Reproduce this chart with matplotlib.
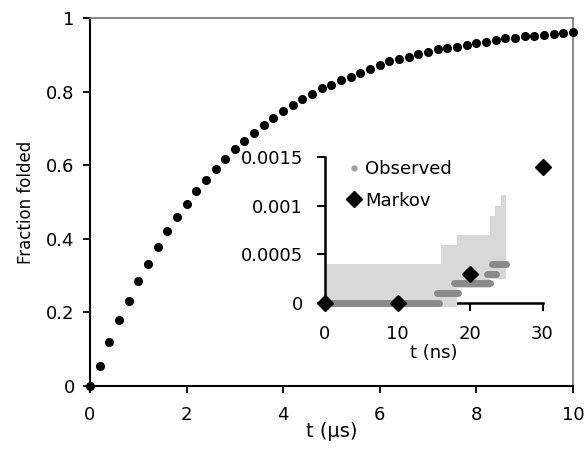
import numpy as np
import matplotlib
matplotlib.use("Agg")
import matplotlib.pyplot as plt

# main curve: fraction folded vs time (us)
t_us = [0.0, 0.2, 0.4, 0.6, 0.8, 1.0, 1.2, 1.4, 1.6, 1.8,
        2.0, 2.2, 2.4, 2.6, 2.8, 3.0, 3.2, 3.4, 3.6, 3.8,
        4.0, 4.2, 4.4, 4.6, 4.8, 5.0, 5.2, 5.4, 5.6, 5.8,
        6.0, 6.2, 6.4, 6.6, 6.8, 7.0, 7.2, 7.4, 7.6, 7.8,
        8.0, 8.2, 8.4, 8.6, 8.8, 9.0, 9.2, 9.4, 9.6, 9.8, 10.0]
frac_folded = [0.000, 0.054, 0.120, 0.179, 0.232, 0.285, 0.333, 0.378, 0.420, 0.459,
               0.496, 0.529, 0.560, 0.590, 0.617, 0.643, 0.665, 0.688, 0.709, 0.729,
               0.748, 0.765, 0.780, 0.793, 0.810, 0.818, 0.832, 0.840, 0.851, 0.862,
               0.873, 0.883, 0.888, 0.894, 0.902, 0.908, 0.915, 0.919, 0.922, 0.927,
               0.932, 0.936, 0.939, 0.945, 0.946, 0.950, 0.951, 0.954, 0.957, 0.960, 0.962]

# inset: observed (ns) - level segments and the spread band
obs_t_start = [0.0, 15.4, 17.8, 22.3, 23.0, 24.9]
obs_t_end = [15.7, 18.4, 22.8, 23.6, 25.0, 25.0]
obs_frac = [0.0, 0.0001, 0.0002, 0.0003, 0.0004, 0.0005]

band_t = [0.0, 16.0, 18.2, 22.7, 23.4, 24.3, 25.0]
band_low = [-0.00005, -0.00005, 0.00015, 0.00024, 0.00024, 0.00024]
band_high = [0.0004, 0.0006, 0.0007, 0.00089, 0.00100, 0.00111]

# inset: Markov model
markov_t = [0, 10, 20, 30]
markov_frac = [0.0, 0.0, 0.0003, 0.0014]

plt.rcParams["font.family"] = ["DejaVu Sans"]

fig = plt.figure(figsize=(5.84, 4.51), dpi=100)
ax = fig.add_axes([0.154, 0.144, 0.827, 0.816])

ax.plot(t_us, frac_folded, "o", color="black", ms=5.5, clip_on=False, zorder=3)
ax.set_xlim(0, 10)
ax.set_ylim(0, 1)
ax.set_xticks([0, 2, 4, 6, 8, 10])
ax.set_yticks([0, 0.2, 0.4, 0.6, 0.8, 1])
ax.set_xticklabels(["0", "2", "4", "6", "8", "10"])
ax.set_yticklabels(["0", "0.2", "0.4", "0.6", "0.8", "1"])
ax.tick_params(direction="out", length=5, width=1.3, labelsize=13)
ax.tick_params(axis="x", pad=9)
ax.tick_params(axis="y", pad=6)
ax.set_xlabel("t (\u03bcs)", fontsize=14, labelpad=-1)
ax.set_ylabel("Fraction folded", fontsize=12, labelpad=8)
for s in ["left", "bottom"]:
    ax.spines[s].set_linewidth(1.5)
for s in ["top", "right"]:
    ax.spines[s].set_linewidth(1.2)
    ax.spines[s].set_color("#777777")

# inset
ins = fig.add_axes([0.5565, 0.329, 0.3725, 0.322])
edges = np.array(band_t)
for i in range(len(band_low)):
    ins.fill_between([edges[i], edges[i + 1]], band_low[i], band_high[i],
                     color="#d8d8d8", lw=0, zorder=1, clip_on=False)
ins.hlines(obs_frac, obs_t_start, obs_t_end, color="#8a8a8a", lw=5,
           capstyle="round", zorder=2, clip_on=False)
ins.plot([], [], "o", color="#a0a0a0", ms=3.5, label="Observed")
ins.plot(markov_t, markov_frac, "D", color="black", ms=8.5, clip_on=False,
         zorder=4, label="Markov")
ins.set_xlim(0, 30)
ins.set_ylim(0, 0.0015)
ins.set_xticks([0, 10, 20, 30])
ins.set_yticks([0, 0.0005, 0.001, 0.0015])
ins.set_yticklabels(["0", "0.0005", "0.001", "0.0015"])
ins.tick_params(direction="out", length=6, width=1.5, labelsize=13, pad=10)
ins.tick_params(axis="x", pad=10)
ins.set_xlabel("t (ns)", fontsize=13, labelpad=1)
ins.spines["top"].set_visible(False)
ins.spines["right"].set_visible(False)
ins.spines["left"].set_linewidth(1.8)
ins.spines["bottom"].set_linewidth(1.8)
ins.spines["bottom"].set_zorder(0)
ins.patch.set_alpha(0)
ins.legend(loc="upper left", bbox_to_anchor=(0.075, 1.03), frameon=False,
           fontsize=13, handlelength=0.6, handletextpad=0.3, labelspacing=0.75,
           borderaxespad=0)

fig.savefig("out.png", dpi=100)
